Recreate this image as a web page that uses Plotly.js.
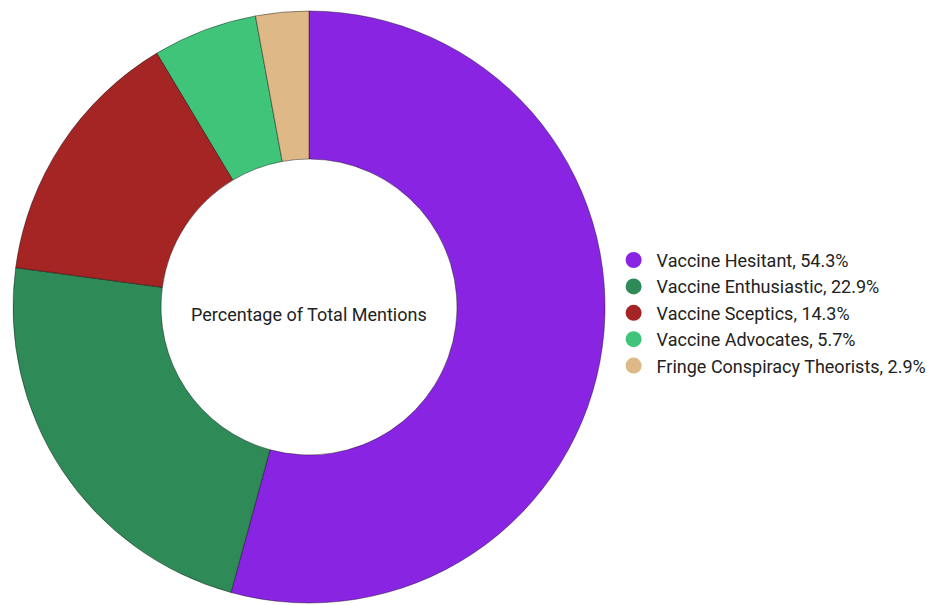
<!DOCTYPE html>
<html>
<head>
<meta charset="utf-8">
<script src="https://cdn.plot.ly/plotly-3.0.1.min.js"></script>
<style>html,body{margin:0;padding:0;background:#fff;}#chart{width:928px;height:605px;}</style>
</head>
<body>
<div id="chart"></div>
<script>
const categories = ["Vaccine Hesitant", "Vaccine Enthusiastic", "Vaccine Sceptics", "Vaccine Advocates", "Fringe Conspiracy Theorists"];
const percentages = [54.3, 22.9, 14.3, 5.7, 2.9];
const colors = ["#8a24e3", "#2e8b57", "#a52525", "#3fc47a", "#deb887"];
const centerLabel = "Percentage of Total Mentions";

const pie = {
  type: "pie",
  labels: categories,
  values: percentages,
  hole: 0.5,
  sort: false,
  direction: "clockwise",
  rotation: 0,
  textinfo: "none",
  hoverinfo: "label+percent",
  showlegend: false,
  marker: { colors: colors, line: { color: "rgba(0,0,0,0.4)", width: 1 } },
  domain: { x: [0.014, 0.652], y: [0.0033, 0.9818] }
};

const legendTraces = categories.map((c, i) => ({
  type: "scatter",
  mode: "markers",
  x: [null], y: [null],
  name: c + ", " + percentages[i].toFixed(1) + "%",
  legendgroup: "g" + i,
  marker: { color: colors[i], size: 16, symbol: "circle" },
  hoverinfo: "skip",
  showlegend: true
}));

const layout = {
  width: 928, height: 605,
  margin: { l: 0, r: 0, t: 0, b: 0, autoexpand: false },
  paper_bgcolor: "#fff", plot_bgcolor: "#fff",
  font: { family: "Roboto, 'Noto Sans', sans-serif", color: "#222", size: 18 },
  xaxis: { visible: false, domain: [0.7, 0.71] },
  yaxis: { visible: false },
  showlegend: true,
  legend: {
    x: 0.658, xanchor: "left", y: 0.483, yanchor: "middle",
    font: { size: 18, color: "#222" }, bgcolor: "rgba(0,0,0,0)",
    traceorder: "grouped", tracegroupgap: 0, itemwidth: 36,
    itemclick: false, itemdoubleclick: false
  },
  annotations: [{
    text: centerLabel, x: 309 / 928, y: (605 - 314) / 605,
    xref: "paper", yref: "paper", showarrow: false,
    font: { size: 18, color: "#222" }, xanchor: "center", yanchor: "middle"
  }]
};

Plotly.newPlot("chart", [pie].concat(legendTraces), layout, { staticPlot: true, displayModeBar: false });
</script>
</body>
</html>
